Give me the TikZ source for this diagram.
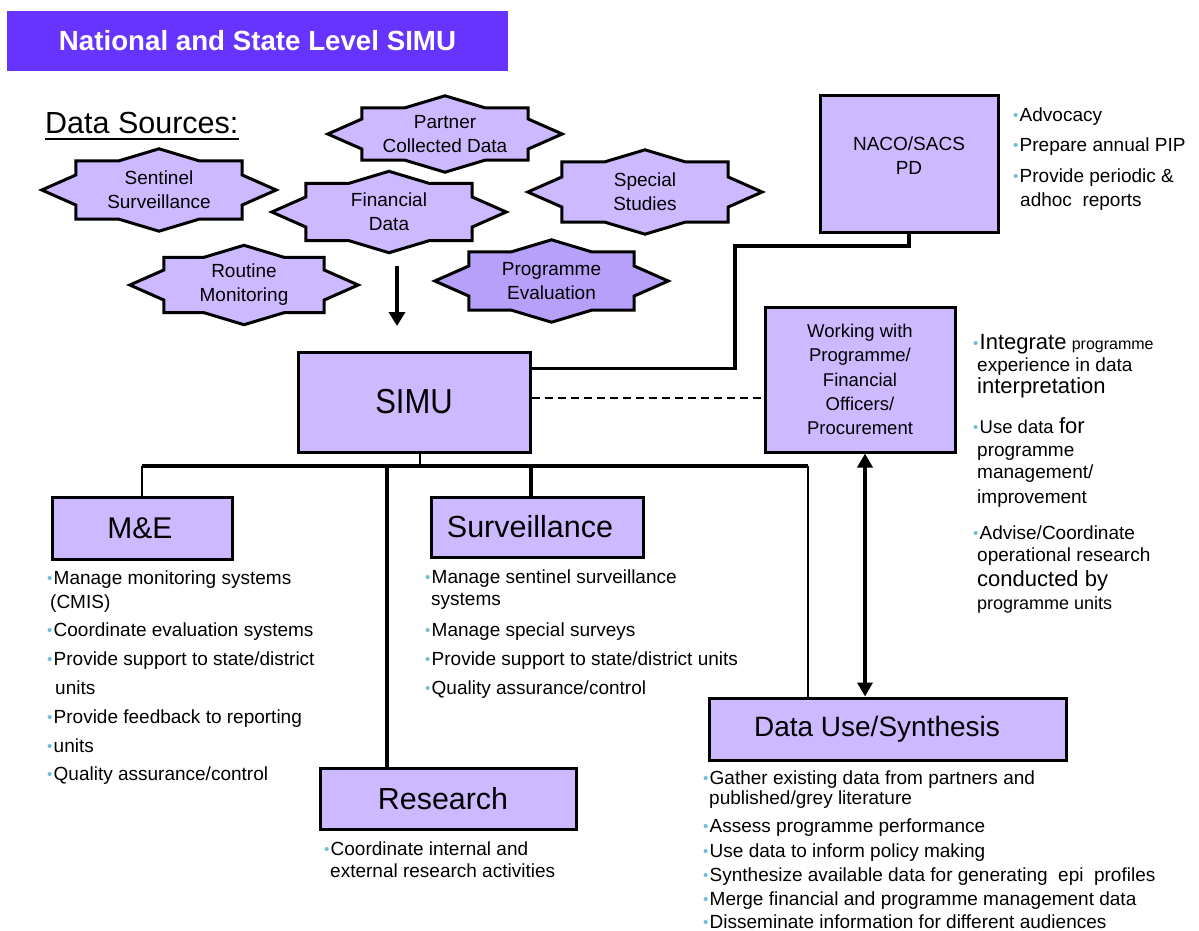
\documentclass[tikz,border=0pt]{standalone}
\usepackage{fontspec}
\setmainfont{Liberation Sans}
\usetikzlibrary{arrows.meta,backgrounds,calc}
\definecolor{headc}{RGB}{102,51,255}
\definecolor{boxc}{RGB}{204,185,255}
\definecolor{evalc}{RGB}{182,160,250}
\definecolor{bulc}{RGB}{110,190,215}
\newcommand\fs[2]{\fontsize{#1}{#2}\selectfont}
\newcommand\bul{\makebox[6.5pt][l]{\color{bulc}\raisebox{1pt}{\fs{15}{15}•}}}
\newcommand\starpath[2]{%
\filldraw[fill=#2, draw=black, line width=3pt] (#1.north west) -- ([xshift=-40pt]#1.north) -- ([yshift=12pt]#1.north) -- ([xshift=40pt]#1.north) -- (#1.north east) -- ([yshift=15pt]#1.east) -- ([xshift=34pt]#1.east) -- ([yshift=-15pt]#1.east) -- (#1.south east) -- ([xshift=40pt]#1.south) -- ([yshift=-12pt]#1.south) -- ([xshift=-40pt]#1.south) -- (#1.south west) -- ([yshift=-15pt]#1.west) -- ([xshift=-34pt]#1.west) -- ([yshift=15pt]#1.west) -- cycle;}
\begin{document}
\begin{tikzpicture}[x=1pt,y=-1pt,
  src/.style={minimum width=166pt, inner sep=0, align=center, font=\fs{19}{24}},
  unitbox/.style={draw=black, line width=3pt, fill=boxc, inner sep=0, align=center},
  txt/.style={inner sep=0, anchor=base west, font=\fs{19}{23}},
  conn/.style={line width=3.5pt},
  thinconn/.style={line width=1.2pt},
  arr/.style={line width=4.5pt, -{Triangle[width=16pt,length=14pt]}},
  darr/.style={line width=4pt, {Triangle[width=15pt,length=14pt]}-{Triangle[width=15pt,length=14pt]}}
]
\useasboundingbox (0,0) rectangle (1199,930);

% header
\node[fill=headc, minimum width=501pt, minimum height=60pt, inner sep=0, text=white, font=\fs{27.7}{32}\bfseries] (title) at (257.5,41) {National and State Level SIMU};

% data sources
\node[inner sep=0, anchor=base west, font=\fs{30.5}{36}] (ds) at (45,133) {Data Sources:};
\draw[line width=1.5pt] ([yshift=-6pt]ds.base west) -- ([yshift=-6pt]ds.base east);

\node[src, minimum height=58pt] (ss) at (159,190) {Sentinel\\Surveillance};
\node[src, minimum height=52pt] (pc) at (445,134) {Partner\\Collected Data};
\node[src, minimum height=57pt] (fd) at (389,212) {Financial\\Data};
\node[src, minimum height=60pt] (sp) at (645,192) {Special\\Studies};
\node[src, minimum width=160pt, minimum height=55pt] (rm) at (244,285) {Routine\\Monitoring};
\node[src, minimum width=165pt, minimum height=58pt] (pe) at (551.5,281) {Programme\\Evaluation};
\begin{pgfonlayer}{background}
\fill[white] (0,0) rectangle (1199,930);
\starpath{ss}{boxc}
\starpath{pc}{boxc}
\starpath{fd}{boxc}
\starpath{sp}{boxc}
\starpath{rm}{boxc}
\starpath{pe}{evalc}
\end{pgfonlayer}

% boxes
\node[unitbox, minimum width=178pt, minimum height=137pt] (naco) at (909,163.5) {};
\node[inner sep=0, align=center, font=\fs{19}{24}] (nacot) at (909,156) {NACO/SACS\\PD};
\node[unitbox, minimum width=232pt, minimum height=100pt, font=\fs{31}{36}] (simu) at (414,402) {\scalebox{1}[1.12]{SIMU}};
\node[unitbox, minimum width=190pt, minimum height=145pt, font=\fs{18.5}{24.2}] (work) at (860,379.5) {Working with\\Programme/\\Financial\\Officers/\\Procurement};
\node[unitbox, minimum width=180pt, minimum height=62pt, font=\fs{30}{36}] (me) at (142,528) {M\&E\hspace{4pt}};
\node[unitbox, minimum width=212pt, minimum height=60pt, font=\fs{30.5}{36}] (surv) at (537,527) {Surveillance\hspace{14pt}};
\node[unitbox, minimum width=256pt, minimum height=61pt, font=\fs{30.4}{36}] (res) at (448,798.5) {Research\hspace{10pt}};
\node[unitbox, minimum width=357pt, minimum height=62pt, font=\fs{28}{34}] (du) at (887.5,729) {Data Use/Synthesis\hspace{21pt}};

% connectors
\coordinate (nacoJ) at (735,246);
\draw[conn] (naco.south) |- (nacoJ) |- ([yshift=-18pt]simu.north east);
\draw[line width=2pt, dash pattern=on 8pt off 5pt] ([yshift=4pt]simu.east) -- ([yshift=4pt]simu.east -| work.west);
\coordinate (busL) at (142,466);
\coordinate (busR) at (808,466);
\draw[thinconn] ([xshift=6pt]simu.south) -- ([xshift=6pt]simu.south |- busL);
\draw[conn] (busL) -- (busR);
\draw[line width=2pt] (me.north) -- (me.north |- busL);
\draw[conn] ([xshift=-61pt]res.north) -- ([xshift=-61pt]res.north |- busL);
\draw[conn] ([xshift=-6pt]surv.north) -- ([xshift=-6pt]surv.north |- busL);
\draw[line width=2.5pt] (busR) -- (busR |- du.north);
\draw[darr] ([xshift=5pt]work.south) -- ([xshift=5pt]work.south |- du.north);
\coordinate (arrS) at (397,266);
\coordinate (arrE) at (397,326);
\draw[arr] (arrS) -- (arrE);

% NACO bullets
\node[txt] (n1) at (1013,121) {\bul Advocacy};
\node[txt] (n2) at (1013,151) {\bul Prepare annual PIP};
\node[txt] (n3) at (1013,182) {\bul Provide periodic \&};
\node[txt] (n4) at (1020,206) {adhoc\ \ reports};

% Working bullets
\node[txt] (w1) at (973,349) {\bul{\fs{22}{24}Integrate} {\fs{16}{20}programme}};
\node[txt] (w2) at (977,371) {experience in data};
\node[txt, font=\fs{22}{24}] (w3) at (977,393) {interpretation};
\node[txt] (w4) at (973,433) {\bul{\fs{18.5}{22}Use data} {\fs{22}{24}for}};
\node[txt] (w5) at (977,456) {programme};
\node[txt] (w6) at (977,478) {management/};
\node[txt] (w7) at (977,503) {improvement};
\node[txt] (w8) at (973,539) {\bul Advise/Coordinate};
\node[txt] (w9) at (977,561) {operational research};
\node[txt, font=\fs{22}{24}] (w10) at (977,586) {conducted by};
\node[txt, font=\fs{18}{22}] (w11) at (977,609) {programme units};

% M&E bullets
\node[txt] (m1) at (47,584) {\bul Manage monitoring systems};
\node[txt] (m2) at (50,608) {(CMIS)};
\node[txt] (m3) at (47,636) {\bul Coordinate evaluation systems};
\node[txt] (m4) at (47,665) {\bul Provide support to state/district};
\node[txt] (m5) at (55,694) {units};
\node[txt] (m6) at (47,723) {\bul Provide feedback to reporting};
\node[txt] (m7) at (47,752) {\bul units};
\node[txt] (m8) at (47,780) {\bul Quality assurance/control};

% Surveillance bullets
\node[txt] (s1) at (425,583) {\bul Manage sentinel surveillance};
\node[txt] (s2) at (431,605) {systems};
\node[txt] (s3) at (425,636) {\bul Manage special surveys};
\node[txt] (s4) at (425,665) {\bul Provide support to state/district units};
\node[txt] (s5) at (425,694) {\bul Quality assurance/control};

% Research bullets
\node[txt] (r1) at (324,855) {\bul Coordinate internal and};
\node[txt] (r2) at (330,877) {external research activities};

% Data use bullets
\node[txt] (d1) at (703,784) {\bul Gather existing data from partners and};
\node[txt] (d2) at (709,804) {published/grey literature};
\node[txt] (d3) at (703,832) {\bul Assess programme performance};
\node[txt] (d4) at (703,857) {\bul Use data to inform policy making};
\node[txt] (d5) at (703,881) {\bul Synthesize available data for generating\ \ epi\ \ profiles};
\node[txt] (d6) at (703,905) {\bul Merge financial and programme management data};
\node[txt] (d7) at (703,928) {\bul Disseminate information for different audiences};
\end{tikzpicture}
\end{document}
